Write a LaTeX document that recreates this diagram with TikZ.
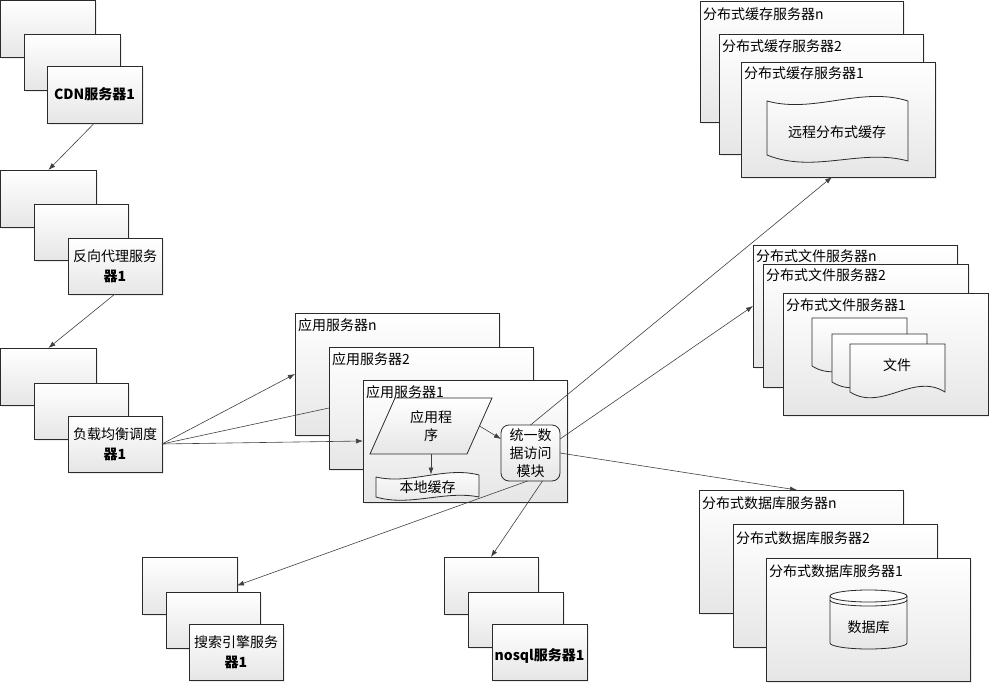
\documentclass[tikz,border=0pt]{standalone}
\usepackage{fontspec}
\setmainfont{Noto Sans CJK SC}
\usetikzlibrary{arrows.meta,shadows,calc}
\definecolor{boxbot}{HTML}{E6E6E6}
\definecolor{edge}{HTML}{2B2B2B}
\definecolor{conn}{HTML}{404040}
\tikzset{
  box/.style={draw=edge, line width=0.8pt, top color=white, bottom color=boxbot,
    drop shadow={opacity=0.15, shadow xshift=1.5pt, shadow yshift=-1.5pt},
    anchor=north west, inner sep=0pt, outer sep=0pt},
  shp/.style={draw=edge, line width=0.8pt, top color=white, bottom color=boxbot},
  lbl/.style={anchor=west, inner sep=0pt, font=\fontsize{14}{18}\selectfont},
  ctr/.style={align=center, inner sep=0pt, font=\fontsize{14}{20}\selectfont},
  hidn/.style={inner sep=0pt, outer sep=0pt, align=center, font=\fontsize{14}{18}\selectfont},
  modst/.style={draw=edge, line width=0.8pt, rounded corners=8pt, top color=white, bottom color=boxbot,
    minimum width=59pt, minimum height=56pt, inner sep=0pt, outer sep=0pt, align=center,
    font=\fontsize{14}{18}\selectfont},
  arr/.style={draw=conn, line width=0.6pt, -{Latex[length=7pt,width=5pt]}},
  ln/.style={draw=conn, line width=0.6pt},
}
\newcommand\mkbox[5]{\node[box, minimum width=#4pt, minimum height=#5pt] (#1) at (#2,#3) {};}
\begin{document}
\begin{tikzpicture}[x=1pt,y=-1pt]
\useasboundingbox (0,0) rectangle (989,683);
% CDN
\mkbox{cdnA}{0.4}{0.4}{95}{57}
\mkbox{cdnB}{24}{34}{96}{56}
\mkbox{cdnC}{47}{66}{95}{57}
\node[ctr, font=\fontsize{14}{20}\selectfont\bfseries] (cdnT) at (cdnC.center) {CDN服务器1};
% reverse proxy
\mkbox{pA}{0.4}{170}{96}{57}
\mkbox{pB}{34}{204}{94}{56}
\mkbox{pC}{68}{238}{94}{56}
\node[ctr] (pT) at (pC.center) {反向代理服务\\\textbf{器1}};
% load balancer
\mkbox{lA}{0.4}{348}{96}{57}
\mkbox{lB}{34}{383}{94}{56}
\mkbox{lC}{68}{416}{94}{56}
\node[ctr] (lT) at (lC.center) {负载均衡调度\\\textbf{器1}};
% app servers
\mkbox{an}{295}{313}{204}{122}
\node[lbl] (anL) at (298,325) {应用服务器n};
\mkbox{a2}{329}{347}{204}{122}
\node[lbl] (a2L) at (332,359) {应用服务器2};
\mkbox{a1}{363}{380}{204}{122}
\node[lbl] (a1L) at (366,392) {应用服务器1};
\path[shp] (395,398) -- (492,398) -- (467,454) -- (370,454) -- cycle;
\node[hidn, minimum width=97pt, minimum height=56pt] (prog) at (431,426) {应用程\\序};
\path[shp] (376,477) .. controls (410,485) and (445,466) .. (479,475) -- (479,497)
  .. controls (445,490) and (410,507) .. (376,497) -- cycle;
\node[hidn, minimum width=103pt, minimum height=25pt] (lc) at (427.5,487) {本地缓存};
\node[modst] (mod) at (530.5,453) {统一数\\据访问\\模块};
% cache servers
\mkbox{cn}{700}{1}{203}{121}
\node[lbl] (cnL) at (703,14) {分布式缓存服务器n};
\mkbox{c2}{719}{34}{204}{120}
\node[lbl] (c2L) at (722,46) {分布式缓存服务器2};
\mkbox{c1}{741}{62}{194}{115}
\node[lbl] (c1L) at (744,73) {分布式缓存服务器1};
\path[shp] (767,101) .. controls (814,114) and (861,86) .. (908,101) -- (908,161)
  .. controls (861,148) and (814,174) .. (767,155) -- cycle;
\node[hidn] (rc) at (837,132) {远程分布式缓存};
% file servers
\mkbox{fn}{753}{245}{204}{122}
\node[lbl] (fnL) at (756,256) {分布式文件服务器n};
\mkbox{f2}{763}{264}{205}{123}
\node[lbl] (f2L) at (766,275) {分布式文件服务器2};
\mkbox{f1}{783}{293}{205}{122}
\node[lbl] (f1L) at (786,305) {分布式文件服务器1};
\path[shp] (812,318) -- (907,318) -- (907,366) .. controls (875,346) and (844,386) .. (812,366) -- cycle;
\path[shp] (832,334) -- (927,334) -- (927,382) .. controls (895,362) and (864,402) .. (832,382) -- cycle;
\path[shp] (850,344) -- (945,344) -- (945,392) .. controls (913,372) and (882,412) .. (850,392) -- cycle;
\node[hidn] (ft) at (897,365) {文件};
% db servers
\mkbox{dn}{699}{490}{204}{123}
\node[lbl] (dnL) at (702,503) {分布式数据库服务器n};
\mkbox{d2}{733}{524}{204}{123}
\node[lbl] (d2L) at (736,538) {分布式数据库服务器2};
\mkbox{d1}{766}{558}{204}{123}
\node[lbl] (d1L) at (769,571) {分布式数据库服务器1};
\path[shp] (830,596) -- (830,643) arc[start angle=180, end angle=360, x radius=38.5pt, y radius=6pt]
  -- (907,596) arc[start angle=0, end angle=180, x radius=38.5pt, y radius=6pt] -- cycle;
\draw[draw=edge, line width=0.8pt] (830,596) arc[start angle=180, end angle=360, x radius=38.5pt, y radius=6pt];
\draw[draw=edge, line width=0.8pt] (830,600) arc[start angle=180, end angle=360, x radius=38.5pt, y radius=6pt];
\node[hidn] (db) at (868.5,627) {数据库};
% search
\mkbox{sA}{142}{557}{95}{57}
\mkbox{sB}{166}{592}{94}{56}
\mkbox{sC}{189}{624}{94}{56}
\node[ctr] (sT) at (sC.center) {搜索引擎服务\\\textbf{器1}};
% nosql
\mkbox{nA}{444}{557}{94}{57}
\mkbox{nB}{468}{592}{95}{55}
\mkbox{nC}{492}{624}{95}{56}
\node[ctr, font=\fontsize{14}{20}\selectfont\bfseries] (nT) at ([yshift=-4pt]nC.center) {nosql服务器1};
% connectors
\draw[arr] (cdnC.south) -- (pA.north);
\draw[arr] (pC.south) -- (lA.north);
\draw[arr] (lC.east) -- (an.west);
\draw[ln] (lC.east) -- (a2.west);
\draw[arr] (lC.east) -- (a1.west);
\draw[arr] (prog.south) -- (prog.south |- lc.north);
\draw[arr] (prog.east) -- ($(mod.north west)!0.25!(mod.south west)$);
\draw[arr] (mod.north) -- ([xshift=-6pt]c1.south);
\draw[arr] ($(mod.north east)!0.25!(mod.south east)$) -- (fn.west);
\draw[arr] (mod.east) -- ([xshift=-4pt]dn.north);
\draw[arr] ([xshift=-3pt]mod.south) -- (sA.east);
\draw[arr] ([xshift=12pt]mod.south) -- (nA.north);
\end{tikzpicture}
\end{document}
